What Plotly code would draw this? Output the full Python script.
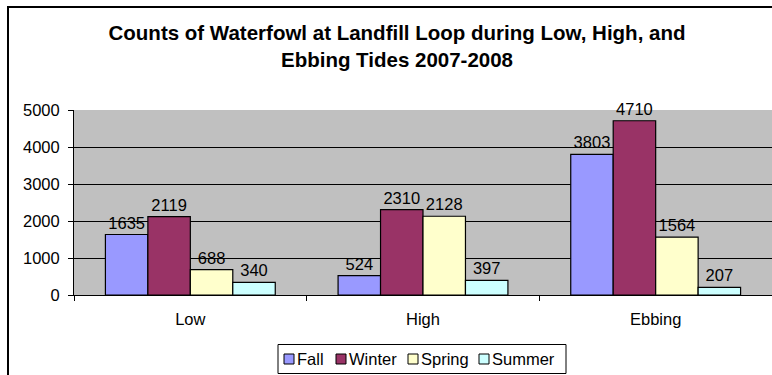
import plotly.graph_objects as go

categories = ["Low", "High", "Ebbing"]
seasons = ["Fall", "Winter", "Spring", "Summer"]
fall = [1635, 524, 3803]
winter = [2119, 2310, 4710]
spring = [688, 2128, 1564]
summer = [340, 397, 207]
season_values = [fall, winter, spring, summer]
season_colors = ["#9999FF", "#993366", "#FFFFCC", "#CCFFFF"]
y_ticks = [0, 1000, 2000, 3000, 4000, 5000]

FONT = "Liberation Sans, Arial, sans-serif"
FS = 16.5
W, H = 772, 375
L, R, T, B = 74, 0, 110, 80
pw, ph = W - L - R, H - T - B

fig = go.Figure()
for name, vals, col in zip(seasons, season_values, season_colors):
    fig.add_trace(go.Bar(
        x=categories, y=vals, name=name, showlegend=False,
        marker=dict(color=col, line=dict(color="black", width=1.2)),
        text=[str(v) for v in vals], textposition="outside",
        textfont=dict(family=FONT, size=FS, color="black"),
        cliponaxis=False, constraintext="none",
    ))

def px(x):
    return (x - L) / pw

def py(y):
    return (H - B - y) / ph

shapes = [dict(
    type="rect", xref="paper", yref="paper",
    x0=px(8), x1=px(W + 20), y0=py(H + 20), y1=py(7),
    line=dict(color="black", width=2), fillcolor="rgba(0,0,0,0)", layer="below",
)]
# legend box
shapes.append(dict(
    type="rect", xref="paper", yref="paper",
    x0=px(278), x1=px(566), y0=py(373.5), y1=py(344.5),
    line=dict(color="black", width=1), fillcolor="white",
))
annotations = []
legend_sq_x = [284, 336, 408, 479]
for name, col, sx in zip(seasons, season_colors, legend_sq_x):
    shapes.append(dict(
        type="rect", xref="paper", yref="paper",
        x0=px(sx), x1=px(sx + 10), y0=py(364), y1=py(354),
        line=dict(color="black", width=1), fillcolor=col,
    ))
    annotations.append(dict(
        text=name, xref="paper", yref="paper", x=px(sx + 11), y=py(359),
        xanchor="left", yanchor="middle", showarrow=False,
        font=dict(family=FONT, size=FS, color="black"),
    ))

fig.update_layout(
    width=W, height=H,
    margin=dict(l=L, r=R, t=T, b=B, pad=0),
    paper_bgcolor="white", plot_bgcolor="#C0C0C0",
    barmode="group", bargap=0.27, bargroupgap=0,
    font=dict(family=FONT, size=FS, color="black"),
    showlegend=False,
    title=dict(
        text="<b>Counts of Waterfowl at Landfill Loop during Low, High, and<br>Ebbing Tides 2007-2008</b>",
        x=397 / W, xanchor="center", xref="container",
        y=1 - 40 / H, yanchor="top", yref="container",
        font=dict(family=FONT, size=20.5, color="black"),
    ),
    xaxis=dict(
        showline=True, linecolor="black", linewidth=1,
        ticks="outside", ticklen=5, tickcolor="black", tickson="boundaries",
        tickfont=dict(family=FONT, size=FS), showgrid=False,
        ticklabelstandoff=9,
    ),
    yaxis=dict(
        range=[0, 5000], tickvals=y_ticks, showline=True, linecolor="black", linewidth=1,
        ticks="outside", ticklen=5, tickcolor="black",
        showgrid=True, gridcolor="black", gridwidth=1,
        tickfont=dict(family=FONT, size=FS), zeroline=False,
        ticklabelstandoff=5,
    ),
    shapes=shapes,
    annotations=annotations,
)

fig.write_html("out.html")
